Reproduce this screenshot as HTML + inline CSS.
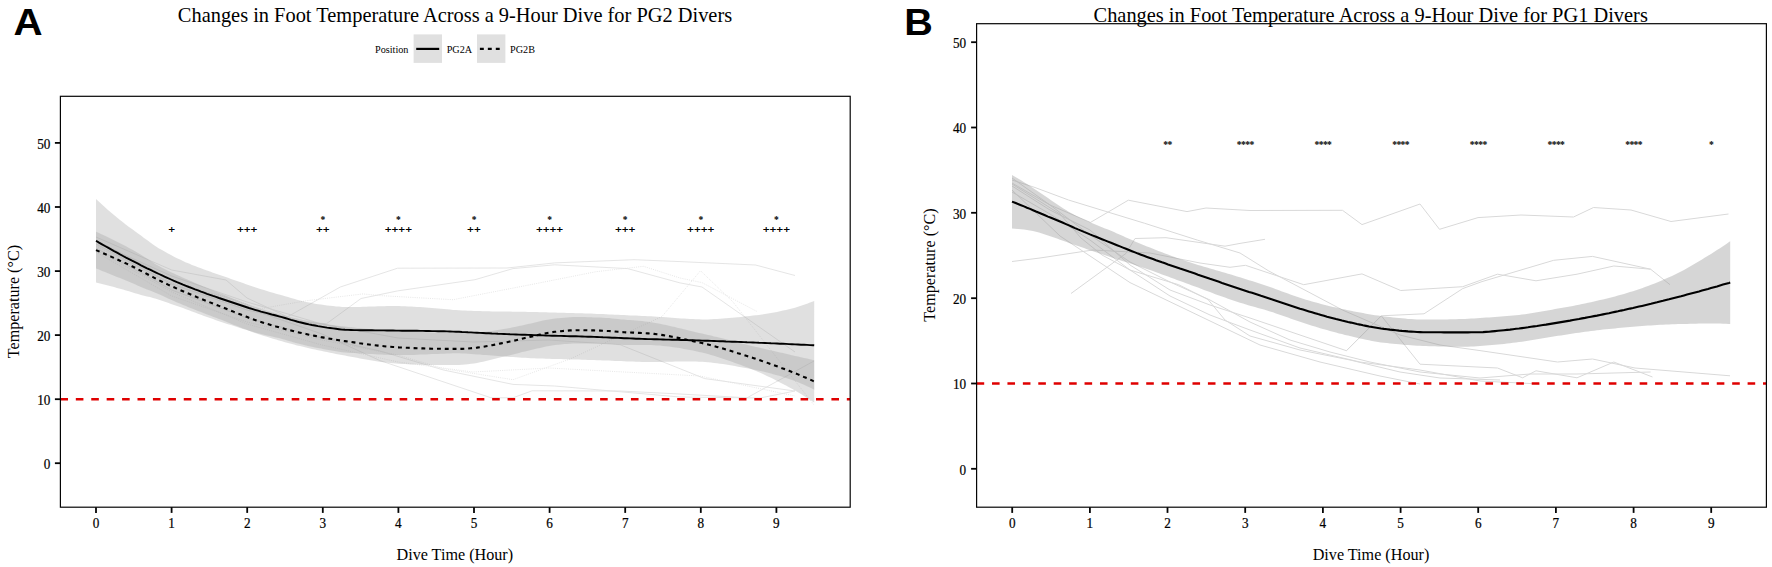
<!DOCTYPE html>
<html lang="en">
<head>
<meta charset="utf-8">
<title>Changes in Foot Temperature Across a 9-Hour Dive</title>
<style>
html,body{margin:0;padding:0;background:#fff;}
body{width:1772px;height:567px;overflow:hidden;}
svg{display:block;}
text{font-family:"Liberation Serif",serif;fill:#000;}
.panel{font-family:"Liberation Sans",sans-serif;font-weight:bold;font-size:37px;}
.title{font-size:20.4px;}
.axt{font-size:16.15px;}
.tick text{font-size:14.2px;stroke:#000;stroke-width:0.22px;}
.leg{font-size:10.2px;}
.annA text{font-size:11.3px;letter-spacing:0.45px;stroke:#000;stroke-width:0.4px;} .annA .st{font-size:9.5px;stroke:none;font-weight:bold;letter-spacing:0;}
.annB text{font-size:9.6px;letter-spacing:-0.6px;font-weight:bold;}
</style>
</head>
<body>
<svg width="1772" height="567" viewBox="0 0 1772 567">
<rect x="0" y="0" width="1772" height="567" fill="#ffffff"/>

<!-- ================= Panel A ================= -->
<text class="panel" transform="translate(13.6,35.2) scale(1.09,1)">A</text>
<text class="title" x="455.0" y="21.8" text-anchor="middle">Changes in Foot Temperature Across a 9-Hour Dive for PG2 Divers</text>

<g class="leg">
<text x="375" y="52.9">Position</text>
<rect x="413.6" y="34.4" width="28.4" height="28.5" fill="#e0e0e0"/>
<line x1="416.2" y1="48.9" x2="439.2" y2="48.9" stroke="#000" stroke-width="2.2"/>
<text x="446.7" y="52.9">PG2A</text>
<rect x="477" y="34.4" width="28.4" height="28.5" fill="#e0e0e0"/>
<line x1="479.9" y1="48.9" x2="502.8" y2="48.9" stroke="#000" stroke-width="2.2" stroke-dasharray="3.9 4.05"/>
<text x="510.1" y="52.9">PG2B</text>
</g>

<clipPath id="clipA"><rect x="60.4" y="96.3" width="789.8" height="410.9"/></clipPath>
<g clip-path="url(#clipA)">
<g fill="none" stroke="#e2e2e2" stroke-width="0.9" stroke-linejoin="round"><polyline points="96.0,237.0 171.7,270.0 226.0,280.0 247.0,298.0 287.5,316.8 340.3,287.0 397.6,268.2 507.0,268.0 554.6,262.9 634.0,259.7 680.0,261.6 755.5,265.0 795.0,275.5"/><polyline points="96.0,244.0 171.7,284.0 247.0,310.0 300.0,322.0 326.5,323.7 361.0,298.5 397.6,290.9 475.0,279.7 513.0,268.6 554.6,264.8 627.6,268.6 680.0,282.9 702.0,287.0 795.0,352.0"/><polyline points="96.0,240.0 171.7,280.0 247.0,308.0 322.0,334.0 380.0,360.6 491.0,397.8 513.0,397.8 532.0,390.8 620.0,391.0 680.0,394.0 733.0,397.0 747.0,397.8 814.0,361.0"/><polyline points="96.0,248.0 171.7,290.0 247.0,318.0 322.0,338.0 380.0,351.0 443.5,370.0 513.0,384.4 554.6,386.0 680.0,397.0 760.0,398.0 795.0,391.0"/><polyline points="96.0,242.0 171.7,276.0 247.0,302.0 322.0,324.0 398.0,338.0 473.0,342.0 549.0,340.0 620.0,344.7 704.7,378.6 795.0,391.0"/></g>
<g fill="none" stroke="#e4e4e4" stroke-width="0.9" stroke-dasharray="1 1.2" stroke-linejoin="round"><polyline points="96.0,246.0 171.7,283.0 226.0,297.0 260.0,308.8 305.9,300.8 363.0,293.9 380.0,295.6 453.0,299.7 532.0,284.4 596.0,271.7 643.5,266.3 680.0,278.0 702.0,282.6 757.0,311.5"/><polyline points="96.0,252.0 171.7,296.0 247.0,322.0 322.0,340.0 398.0,355.0 443.0,368.6 513.0,379.7 570.0,359.0 662.0,316.5 700.5,270.7 733.0,302.0 814.0,405.0"/><polyline points="96.0,250.0 171.7,292.0 247.0,324.0 322.0,345.0 398.0,362.0 473.0,372.0 549.0,368.0 624.0,372.0 700.0,376.0 795.0,396.0"/></g>
<polygon points="96.0,199.0 99.0,201.8 102.0,204.5 105.0,207.2 108.0,209.9 111.0,212.5 114.0,215.0 117.0,217.5 120.0,220.0 123.0,222.3 126.0,224.7 129.0,226.9 132.0,229.1 135.0,231.3 138.0,233.4 141.0,235.6 144.0,237.9 147.0,240.1 150.0,242.3 153.0,244.5 156.0,246.5 159.0,248.4 162.0,250.1 165.0,251.8 168.0,253.5 171.0,255.1 174.0,256.7 177.0,258.2 180.0,259.6 183.0,261.0 186.0,262.4 189.0,263.6 192.0,264.9 195.0,266.0 198.0,267.2 201.0,268.3 204.0,269.4 207.0,270.5 210.0,271.6 213.0,272.7 216.0,273.7 219.0,274.7 222.0,275.8 225.0,276.8 228.0,277.8 231.0,278.9 234.0,279.9 237.0,281.0 240.0,282.1 243.0,283.1 246.0,284.2 249.0,285.2 252.0,286.2 255.0,287.2 258.0,288.2 261.0,289.2 264.0,290.1 267.0,291.1 270.0,292.0 273.0,292.8 276.0,293.7 279.0,294.5 282.0,295.3 285.0,296.2 288.0,297.1 291.0,298.0 294.0,298.8 297.0,299.7 300.0,300.5 303.0,301.2 306.0,301.9 309.0,302.5 312.0,303.1 315.0,303.7 318.0,304.2 321.0,304.6 324.0,305.0 327.0,305.4 330.0,305.7 333.0,306.0 336.0,306.4 339.0,306.6 342.0,306.9 345.0,307.0 348.0,307.0 351.0,307.0 354.0,307.0 357.0,307.0 360.0,306.9 363.0,306.8 366.0,306.7 369.0,306.6 372.0,306.5 375.0,306.4 378.0,306.3 381.0,306.3 384.0,306.2 387.0,306.1 390.0,306.1 393.0,306.1 396.0,306.1 399.0,306.1 402.0,306.2 405.0,306.3 408.0,306.4 411.0,306.6 414.0,306.7 417.0,306.9 420.0,307.1 423.0,307.3 426.0,307.6 429.0,307.8 432.0,308.0 435.0,308.2 438.0,308.5 441.0,308.7 444.0,308.9 447.0,309.2 450.0,309.6 453.0,309.9 456.0,310.1 459.0,310.3 462.0,310.5 465.0,310.6 468.0,310.7 471.0,310.8 474.0,310.9 477.0,311.0 480.0,311.1 483.0,311.2 486.0,311.3 489.0,311.3 492.0,311.4 495.0,311.5 498.0,311.5 501.0,311.5 504.0,311.6 507.0,311.6 510.0,311.6 513.0,311.7 516.0,311.7 519.0,311.7 522.0,311.8 525.0,311.8 528.0,311.9 531.0,311.9 534.0,312.0 537.0,312.1 540.0,312.2 543.0,312.2 546.0,312.3 549.0,312.4 552.0,312.5 555.0,312.6 558.0,312.7 561.0,312.8 564.0,312.8 567.0,312.9 570.0,313.0 573.0,313.1 576.0,313.2 579.0,313.3 582.0,313.3 585.0,313.4 588.0,313.5 591.0,313.6 594.0,313.8 597.0,313.9 600.0,314.0 603.0,314.1 606.0,314.3 609.0,314.4 612.0,314.6 615.0,314.7 618.0,314.8 621.0,315.0 624.0,315.1 627.0,315.3 630.0,315.4 633.0,315.5 636.0,315.6 639.0,315.8 642.0,315.9 645.0,316.0 648.0,316.2 651.0,316.3 654.0,316.5 657.0,316.7 660.0,316.9 663.0,317.1 666.0,317.3 669.0,317.5 672.0,317.8 675.0,318.0 678.0,318.2 681.0,318.4 684.0,318.6 687.0,318.7 690.0,318.9 693.0,319.1 696.0,319.2 699.0,319.3 702.0,319.4 705.0,319.4 708.0,319.4 711.0,319.3 714.0,319.1 717.0,319.0 720.0,318.8 723.0,318.6 726.0,318.3 729.0,318.0 732.0,317.8 735.0,317.5 738.0,317.2 741.0,316.9 744.0,316.6 747.0,316.3 750.0,316.0 753.0,315.6 756.0,315.3 759.0,314.9 762.0,314.4 765.0,314.0 768.0,313.5 771.0,313.0 774.0,312.4 777.0,311.9 780.0,311.3 783.0,310.6 786.0,310.0 789.0,309.3 792.0,308.6 795.0,307.7 798.0,306.8 801.0,305.8 804.0,304.8 807.0,303.7 810.0,302.5 813.0,301.4 814.2,300.9 814.2,389.7 813.0,389.1 810.0,387.6 807.0,386.2 804.0,384.8 801.0,383.5 798.0,382.2 795.0,381.0 792.0,379.9 789.0,378.9 786.0,377.9 783.0,377.0 780.0,376.1 777.0,375.2 774.0,374.4 771.0,373.6 768.0,372.8 765.0,372.1 762.0,371.3 759.0,370.7 756.0,370.0 753.0,369.4 750.0,368.8 747.0,368.3 744.0,367.7 741.0,367.2 738.0,366.7 735.0,366.1 732.0,365.6 729.0,365.1 726.0,364.6 723.0,364.1 720.0,363.7 717.0,363.3 714.0,362.9 711.0,362.6 708.0,362.3 705.0,362.0 702.0,361.8 699.0,361.7 696.0,361.6 693.0,361.6 690.0,361.5 687.0,361.5 684.0,361.5 681.0,361.5 678.0,361.6 675.0,361.6 672.0,361.7 669.0,361.7 666.0,361.8 663.0,361.8 660.0,361.9 657.0,361.9 654.0,361.9 651.0,362.0 648.0,361.9 645.0,361.9 642.0,361.9 639.0,361.8 636.0,361.7 633.0,361.6 630.0,361.5 627.0,361.4 624.0,361.2 621.0,361.1 618.0,361.0 615.0,360.9 612.0,360.8 609.0,360.6 606.0,360.5 603.0,360.4 600.0,360.3 597.0,360.2 594.0,360.1 591.0,359.9 588.0,359.9 585.0,359.8 582.0,359.7 579.0,359.6 576.0,359.5 573.0,359.4 570.0,359.4 567.0,359.3 564.0,359.2 561.0,359.1 558.0,359.1 555.0,359.0 552.0,358.9 549.0,358.8 546.0,358.7 543.0,358.6 540.0,358.5 537.0,358.4 534.0,358.3 531.0,358.2 528.0,358.0 525.0,357.8 522.0,357.7 519.0,357.5 516.0,357.3 513.0,357.1 510.0,356.9 507.0,356.7 504.0,356.5 501.0,356.3 498.0,356.0 495.0,355.8 492.0,355.6 489.0,355.3 486.0,355.1 483.0,354.9 480.0,354.6 477.0,354.4 474.0,354.2 471.0,354.0 468.0,353.8 465.0,353.6 462.0,353.5 459.0,353.3 456.0,353.3 453.0,353.3 450.0,353.4 447.0,353.5 444.0,353.7 441.0,353.8 438.0,353.9 435.0,354.0 432.0,354.1 429.0,354.2 426.0,354.4 423.0,354.5 420.0,354.6 417.0,354.8 414.0,354.9 411.0,355.0 408.0,355.0 405.0,355.1 402.0,355.1 399.0,355.1 396.0,355.1 393.0,355.0 390.0,354.9 387.0,354.8 384.0,354.7 381.0,354.6 378.0,354.4 375.0,354.3 372.0,354.1 369.0,354.0 366.0,353.8 363.0,353.6 360.0,353.5 357.0,353.3 354.0,353.1 351.0,353.0 348.0,352.8 345.0,352.6 342.0,352.2 339.0,351.8 336.0,351.3 333.0,350.8 330.0,350.3 327.0,349.8 324.0,349.2 321.0,348.6 318.0,348.0 315.0,347.4 312.0,346.8 309.0,346.2 306.0,345.5 303.0,344.8 300.0,344.1 297.0,343.3 294.0,342.4 291.0,341.6 288.0,340.7 285.0,339.8 282.0,338.9 279.0,338.1 276.0,337.4 273.0,336.7 270.0,336.0 267.0,335.4 264.0,334.7 261.0,334.0 258.0,333.2 255.0,332.4 252.0,331.6 249.0,330.7 246.0,329.8 243.0,328.9 240.0,328.0 237.0,327.1 234.0,326.1 231.0,325.1 228.0,324.2 225.0,323.2 222.0,322.2 219.0,321.2 216.0,320.2 213.0,319.1 210.0,318.1 207.0,317.0 204.0,315.9 201.0,314.8 198.0,313.7 195.0,312.6 192.0,311.4 189.0,310.3 186.0,309.2 183.0,308.1 180.0,307.0 177.0,306.0 174.0,304.9 171.0,303.9 168.0,302.8 165.0,301.8 162.0,300.7 159.0,299.7 156.0,298.7 153.0,297.9 150.0,297.1 147.0,296.4 144.0,295.7 141.0,294.9 138.0,294.0 135.0,293.2 132.0,292.2 129.0,291.3 126.0,290.4 123.0,289.6 120.0,288.8 117.0,287.9 114.0,287.1 111.0,286.3 108.0,285.6 105.0,284.8 102.0,284.0 99.0,283.3 96.0,282.6" fill="#999999" fill-opacity="0.3"/>
<polygon points="96.0,231.8 99.0,233.1 102.0,234.5 105.0,235.8 108.0,237.3 111.0,238.7 114.0,240.2 117.0,241.7 120.0,243.2 123.0,244.8 126.0,246.3 129.0,248.0 132.0,249.6 135.0,251.3 138.0,253.1 141.0,254.8 144.0,256.7 147.0,258.6 150.0,260.6 153.0,262.5 156.0,264.4 159.0,266.1 162.0,267.7 165.0,269.3 168.0,270.8 171.0,272.2 174.0,273.6 177.0,275.0 180.0,276.3 183.0,277.7 186.0,279.0 189.0,280.3 192.0,281.6 195.0,282.9 198.0,284.2 201.0,285.4 204.0,286.7 207.0,288.0 210.0,289.2 213.0,290.5 216.0,291.7 219.0,292.9 222.0,294.1 225.0,295.3 228.0,296.5 231.0,297.7 234.0,298.9 237.0,300.1 240.0,301.3 243.0,302.5 246.0,303.6 249.0,304.8 252.0,305.9 255.0,306.9 258.0,307.9 261.0,308.9 264.0,309.8 267.0,310.7 270.0,311.6 273.0,312.5 276.0,313.3 279.0,314.2 282.0,315.0 285.0,315.7 288.0,316.5 291.0,317.2 294.0,317.9 297.0,318.6 300.0,319.3 303.0,319.9 306.0,320.5 309.0,321.1 312.0,321.6 315.0,322.2 318.0,322.7 321.0,323.3 324.0,323.8 327.0,324.3 330.0,324.7 333.0,325.1 336.0,325.6 339.0,325.9 342.0,326.3 345.0,326.6 348.0,327.0 351.0,327.3 354.0,327.6 357.0,327.9 360.0,328.1 363.0,328.4 366.0,328.7 369.0,329.0 372.0,329.2 375.0,329.5 378.0,329.7 381.0,330.0 384.0,330.2 387.0,330.4 390.0,330.6 393.0,330.7 396.0,330.9 399.0,331.0 402.0,331.1 405.0,331.3 408.0,331.4 411.0,331.6 414.0,331.7 417.0,331.8 420.0,332.0 423.0,332.1 426.0,332.2 429.0,332.3 432.0,332.4 435.0,332.5 438.0,332.5 441.0,332.6 444.0,332.6 447.0,332.7 450.0,332.7 453.0,332.8 456.0,332.8 459.0,332.9 462.0,332.9 465.0,332.8 468.0,332.7 471.0,332.6 474.0,332.5 477.0,332.3 480.0,332.1 483.0,331.9 486.0,331.6 489.0,331.3 492.0,330.9 495.0,330.5 498.0,330.0 501.0,329.5 504.0,329.0 507.0,328.5 510.0,327.9 513.0,327.3 516.0,326.7 519.0,326.0 522.0,325.4 525.0,324.7 528.0,324.0 531.0,323.4 534.0,322.7 537.0,322.0 540.0,321.3 543.0,320.6 546.0,320.0 549.0,319.4 552.0,318.9 555.0,318.6 558.0,318.3 561.0,318.0 564.0,317.7 567.0,317.4 570.0,317.2 573.0,317.1 576.0,317.0 579.0,317.0 582.0,317.0 585.0,317.1 588.0,317.2 591.0,317.3 594.0,317.4 597.0,317.5 600.0,317.6 603.0,317.8 606.0,317.9 609.0,318.1 612.0,318.4 615.0,318.7 618.0,319.1 621.0,319.4 624.0,319.6 627.0,319.9 630.0,320.1 633.0,320.3 636.0,320.6 639.0,320.8 642.0,321.1 645.0,321.4 648.0,321.8 651.0,322.2 654.0,322.7 657.0,323.2 660.0,323.8 663.0,324.4 666.0,325.0 669.0,325.7 672.0,326.4 675.0,327.1 678.0,327.9 681.0,328.6 684.0,329.3 687.0,330.1 690.0,330.8 693.0,331.5 696.0,332.2 699.0,332.9 702.0,333.6 705.0,334.2 708.0,334.9 711.0,335.6 714.0,336.4 717.0,337.1 720.0,337.8 723.0,338.6 726.0,339.3 729.0,340.1 732.0,340.8 735.0,341.6 738.0,342.4 741.0,343.2 744.0,343.9 747.0,344.7 750.0,345.5 753.0,346.2 756.0,346.9 759.0,347.6 762.0,348.3 765.0,349.0 768.0,349.7 771.0,350.4 774.0,351.1 777.0,351.8 780.0,352.4 783.0,353.1 786.0,353.8 789.0,354.5 792.0,355.2 795.0,355.9 798.0,356.6 801.0,357.3 804.0,357.9 807.0,358.6 810.0,359.3 813.0,359.9 814.2,360.2 814.2,402.6 813.0,401.8 810.0,399.8 807.0,397.9 804.0,396.0 801.0,394.1 798.0,392.3 795.0,390.5 792.0,388.8 789.0,387.2 786.0,385.6 783.0,384.0 780.0,382.4 777.0,380.9 774.0,379.3 771.0,377.8 768.0,376.4 765.0,375.0 762.0,373.6 759.0,372.2 756.0,370.9 753.0,369.7 750.0,368.4 747.0,367.3 744.0,366.2 741.0,365.1 738.0,364.0 735.0,362.9 732.0,361.8 729.0,360.7 726.0,359.7 723.0,358.7 720.0,357.7 717.0,356.7 714.0,355.8 711.0,354.9 708.0,354.1 705.0,353.3 702.0,352.6 699.0,351.9 696.0,351.3 693.0,350.6 690.0,350.0 687.0,349.4 684.0,348.9 681.0,348.3 678.0,347.8 675.0,347.4 672.0,346.9 669.0,346.5 666.0,346.2 663.0,345.9 660.0,345.6 657.0,345.4 654.0,345.2 651.0,345.0 648.0,345.0 645.0,344.9 642.0,344.9 639.0,344.9 636.0,344.9 633.0,344.9 630.0,344.9 627.0,344.9 624.0,344.9 621.0,344.7 618.0,344.6 615.0,344.3 612.0,344.0 609.0,343.9 606.0,343.8 603.0,343.7 600.0,343.6 597.0,343.6 594.0,343.5 591.0,343.5 588.0,343.4 585.0,343.4 582.0,343.4 579.0,343.4 576.0,343.4 573.0,343.5 570.0,343.7 567.0,343.9 564.0,344.1 561.0,344.4 558.0,344.7 555.0,345.1 552.0,345.4 549.0,345.9 546.0,346.5 543.0,347.2 540.0,347.9 537.0,348.6 534.0,349.3 531.0,350.0 528.0,350.7 525.0,351.4 522.0,352.1 519.0,352.9 516.0,353.7 513.0,354.4 510.0,355.2 507.0,355.9 504.0,356.6 501.0,357.3 498.0,358.0 495.0,358.8 492.0,359.5 489.0,360.3 486.0,361.0 483.0,361.7 480.0,362.3 477.0,362.9 474.0,363.4 471.0,363.8 468.0,364.3 465.0,364.6 462.0,364.8 459.0,364.9 456.0,364.9 453.0,365.0 450.0,365.0 447.0,365.0 444.0,365.0 441.0,365.0 438.0,365.0 435.0,365.0 432.0,365.0 429.0,364.9 426.0,364.9 423.0,364.8 420.0,364.7 417.0,364.6 414.0,364.5 411.0,364.4 408.0,364.2 405.0,364.1 402.0,363.9 399.0,363.7 396.0,363.5 393.0,363.3 390.0,363.0 387.0,362.6 384.0,362.3 381.0,361.9 378.0,361.4 375.0,361.0 372.0,360.5 369.0,360.0 366.0,359.4 363.0,358.9 360.0,358.4 357.0,357.8 354.0,357.3 351.0,356.7 348.0,356.2 345.0,355.6 342.0,355.0 339.0,354.5 336.0,353.9 333.0,353.3 330.0,352.7 327.0,352.1 324.0,351.4 321.0,350.8 318.0,350.2 315.0,349.6 312.0,348.9 309.0,348.2 306.0,347.5 303.0,346.8 300.0,346.1 297.0,345.4 294.0,344.6 291.0,343.8 288.0,343.0 285.0,342.2 282.0,341.3 279.0,340.4 276.0,339.6 273.0,338.7 270.0,337.8 267.0,336.8 264.0,335.9 261.0,334.9 258.0,334.0 255.0,332.9 252.0,331.9 249.0,330.8 246.0,329.6 243.0,328.5 240.0,327.3 237.0,326.1 234.0,324.9 231.0,323.7 228.0,322.5 225.0,321.3 222.0,320.1 219.0,318.9 216.0,317.8 213.0,316.7 210.0,315.5 207.0,314.4 204.0,313.2 201.0,312.1 198.0,310.9 195.0,309.8 192.0,308.6 189.0,307.4 186.0,306.1 183.0,304.9 180.0,303.6 177.0,302.4 174.0,301.1 171.0,299.7 168.0,298.4 165.0,297.0 162.0,295.6 159.0,294.2 156.0,292.9 153.0,291.7 150.0,290.5 147.0,289.4 144.0,288.2 141.0,287.0 138.0,285.7 135.0,284.3 132.0,283.0 129.0,281.8 126.0,280.5 123.0,279.3 120.0,278.1 117.0,276.9 114.0,275.7 111.0,274.5 108.0,273.3 105.0,272.1 102.0,270.9 99.0,269.6 96.0,268.4" fill="#999999" fill-opacity="0.3"/>
<polyline points="96.0,240.8 99.0,242.6 102.0,244.3 105.0,246.0 108.0,247.7 111.0,249.4 114.0,251.1 117.0,252.7 120.0,254.4 123.0,256.0 126.0,257.6 129.0,259.1 132.0,260.7 135.0,262.2 138.0,263.7 141.0,265.3 144.0,266.8 147.0,268.3 150.0,269.7 153.0,271.2 156.0,272.6 159.0,274.0 162.0,275.4 165.0,276.8 168.0,278.2 171.0,279.5 174.0,280.8 177.0,282.1 180.0,283.3 183.0,284.6 186.0,285.8 189.0,287.0 192.0,288.1 195.0,289.3 198.0,290.4 201.0,291.6 204.0,292.7 207.0,293.8 210.0,294.8 213.0,295.9 216.0,296.9 219.0,298.0 222.0,299.0 225.0,300.0 228.0,301.0 231.0,302.0 234.0,303.0 237.0,304.0 240.0,305.0 243.0,306.0 246.0,307.0 249.0,308.0 252.0,308.9 255.0,309.8 258.0,310.7 261.0,311.6 264.0,312.4 267.0,313.2 270.0,314.0 273.0,314.8 276.0,315.5 279.0,316.3 282.0,317.1 285.0,318.0 288.0,318.9 291.0,319.8 294.0,320.6 297.0,321.5 300.0,322.3 303.0,323.0 306.0,323.7 309.0,324.4 312.0,325.0 315.0,325.5 318.0,326.1 321.0,326.6 324.0,327.1 327.0,327.6 330.0,328.0 333.0,328.4 336.0,328.8 339.0,329.2 342.0,329.6 345.0,329.8 348.0,329.9 351.0,330.0 354.0,330.1 357.0,330.1 360.0,330.2 363.0,330.2 366.0,330.3 369.0,330.3 372.0,330.3 375.0,330.4 378.0,330.4 381.0,330.4 384.0,330.4 387.0,330.5 390.0,330.5 393.0,330.5 396.0,330.6 399.0,330.6 402.0,330.7 405.0,330.7 408.0,330.7 411.0,330.8 414.0,330.8 417.0,330.8 420.0,330.9 423.0,330.9 426.0,331.0 429.0,331.0 432.0,331.1 435.0,331.1 438.0,331.2 441.0,331.2 444.0,331.3 447.0,331.4 450.0,331.5 453.0,331.6 456.0,331.7 459.0,331.8 462.0,332.0 465.0,332.1 468.0,332.3 471.0,332.4 474.0,332.6 477.0,332.7 480.0,332.9 483.0,333.0 486.0,333.2 489.0,333.3 492.0,333.5 495.0,333.6 498.0,333.8 501.0,333.9 504.0,334.0 507.0,334.1 510.0,334.3 513.0,334.4 516.0,334.5 519.0,334.6 522.0,334.7 525.0,334.8 528.0,334.9 531.0,335.0 534.0,335.1 537.0,335.2 540.0,335.3 543.0,335.4 546.0,335.5 549.0,335.6 552.0,335.7 555.0,335.8 558.0,335.9 561.0,335.9 564.0,336.0 567.0,336.1 570.0,336.2 573.0,336.3 576.0,336.3 579.0,336.4 582.0,336.5 585.0,336.6 588.0,336.7 591.0,336.8 594.0,336.9 597.0,337.0 600.0,337.1 603.0,337.3 606.0,337.4 609.0,337.5 612.0,337.7 615.0,337.8 618.0,337.9 621.0,338.0 624.0,338.2 627.0,338.3 630.0,338.4 633.0,338.5 636.0,338.7 639.0,338.8 642.0,338.9 645.0,339.0 648.0,339.1 651.0,339.1 654.0,339.2 657.0,339.3 660.0,339.4 663.0,339.5 666.0,339.6 669.0,339.6 672.0,339.7 675.0,339.8 678.0,339.9 681.0,340.0 684.0,340.0 687.0,340.1 690.0,340.2 693.0,340.3 696.0,340.4 699.0,340.5 702.0,340.6 705.0,340.7 708.0,340.8 711.0,340.9 714.0,341.0 717.0,341.1 720.0,341.2 723.0,341.3 726.0,341.5 729.0,341.6 732.0,341.7 735.0,341.8 738.0,341.9 741.0,342.0 744.0,342.1 747.0,342.3 750.0,342.4 753.0,342.5 756.0,342.6 759.0,342.8 762.0,342.9 765.0,343.0 768.0,343.1 771.0,343.3 774.0,343.4 777.0,343.5 780.0,343.7 783.0,343.8 786.0,343.9 789.0,344.1 792.0,344.2 795.0,344.4 798.0,344.5 801.0,344.7 804.0,344.8 807.0,344.9 810.0,345.1 813.0,345.2 814.2,345.3" fill="none" stroke="#000" stroke-width="1.9"/>
<polyline points="96.0,250.1 99.0,251.4 102.0,252.7 105.0,254.0 108.0,255.3 111.0,256.6 114.0,257.9 117.0,259.3 120.0,260.7 123.0,262.0 126.0,263.4 129.0,264.9 132.0,266.3 135.0,267.8 138.0,269.4 141.0,270.9 144.0,272.4 147.0,274.0 150.0,275.6 153.0,277.1 156.0,278.7 159.0,280.2 162.0,281.7 165.0,283.2 168.0,284.6 171.0,286.0 174.0,287.3 177.0,288.7 180.0,290.0 183.0,291.3 186.0,292.6 189.0,293.8 192.0,295.1 195.0,296.3 198.0,297.6 201.0,298.8 204.0,300.0 207.0,301.2 210.0,302.4 213.0,303.6 216.0,304.7 219.0,305.9 222.0,307.1 225.0,308.3 228.0,309.5 231.0,310.7 234.0,311.9 237.0,313.1 240.0,314.3 243.0,315.5 246.0,316.6 249.0,317.8 252.0,318.9 255.0,319.9 258.0,321.0 261.0,321.9 264.0,322.9 267.0,323.8 270.0,324.7 273.0,325.6 276.0,326.5 279.0,327.3 282.0,328.1 285.0,329.0 288.0,329.7 291.0,330.5 294.0,331.3 297.0,332.0 300.0,332.7 303.0,333.4 306.0,334.0 309.0,334.7 312.0,335.3 315.0,335.9 318.0,336.5 321.0,337.1 324.0,337.6 327.0,338.2 330.0,338.7 333.0,339.2 336.0,339.7 339.0,340.2 342.0,340.7 345.0,341.1 348.0,341.6 351.0,342.0 354.0,342.4 357.0,342.8 360.0,343.3 363.0,343.7 366.0,344.1 369.0,344.5 372.0,344.9 375.0,345.2 378.0,345.6 381.0,345.9 384.0,346.2 387.0,346.5 390.0,346.8 393.0,347.0 396.0,347.2 399.0,347.4 402.0,347.5 405.0,347.7 408.0,347.8 411.0,348.0 414.0,348.1 417.0,348.2 420.0,348.3 423.0,348.4 426.0,348.5 429.0,348.6 432.0,348.7 435.0,348.7 438.0,348.8 441.0,348.8 444.0,348.8 447.0,348.9 450.0,348.9 453.0,348.9 456.0,348.9 459.0,348.9 462.0,348.9 465.0,348.7 468.0,348.5 471.0,348.2 474.0,347.9 477.0,347.6 480.0,347.2 483.0,346.8 486.0,346.3 489.0,345.8 492.0,345.2 495.0,344.6 498.0,344.0 501.0,343.4 504.0,342.8 507.0,342.2 510.0,341.5 513.0,340.9 516.0,340.2 519.0,339.5 522.0,338.7 525.0,338.0 528.0,337.4 531.0,336.7 534.0,336.0 537.0,335.3 540.0,334.6 543.0,333.9 546.0,333.3 549.0,332.7 552.0,332.2 555.0,331.8 558.0,331.5 561.0,331.2 564.0,330.9 567.0,330.7 570.0,330.4 573.0,330.3 576.0,330.2 579.0,330.2 582.0,330.2 585.0,330.3 588.0,330.3 591.0,330.4 594.0,330.4 597.0,330.5 600.0,330.6 603.0,330.7 606.0,330.9 609.0,331.0 612.0,331.2 615.0,331.5 618.0,331.8 621.0,332.1 624.0,332.2 627.0,332.4 630.0,332.5 633.0,332.6 636.0,332.8 639.0,332.9 642.0,333.0 645.0,333.2 648.0,333.4 651.0,333.6 654.0,333.9 657.0,334.3 660.0,334.7 663.0,335.1 666.0,335.6 669.0,336.1 672.0,336.7 675.0,337.3 678.0,337.9 681.0,338.5 684.0,339.1 687.0,339.8 690.0,340.4 693.0,341.1 696.0,341.7 699.0,342.4 702.0,343.1 705.0,343.8 708.0,344.5 711.0,345.3 714.0,346.1 717.0,346.9 720.0,347.8 723.0,348.6 726.0,349.5 729.0,350.4 732.0,351.3 735.0,352.2 738.0,353.2 741.0,354.1 744.0,355.1 747.0,356.0 750.0,357.0 753.0,357.9 756.0,358.9 759.0,359.9 762.0,361.0 765.0,362.0 768.0,363.1 771.0,364.1 774.0,365.2 777.0,366.3 780.0,367.4 783.0,368.6 786.0,369.7 789.0,370.8 792.0,372.0 795.0,373.2 798.0,374.4 801.0,375.7 804.0,377.0 807.0,378.2 810.0,379.5 813.0,380.9 814.2,381.4" fill="none" stroke="#000" stroke-width="2.1" stroke-dasharray="3.9 3.9"/>
<line x1="60.4" y1="399.2" x2="850.2" y2="399.2" stroke="#df0000" stroke-width="2.4" stroke-dasharray="7.6 7.82"/>
</g>
<g class="annA"><text x="171.8" y="232.7" text-anchor="middle">+</text><text x="247.4" y="232.7" text-anchor="middle">+++</text><text x="323.0" y="232.7" text-anchor="middle">++</text><text x="398.6" y="232.7" text-anchor="middle">++++</text><text x="474.2" y="232.7" text-anchor="middle">++</text><text x="549.8" y="232.7" text-anchor="middle">++++</text><text x="625.4" y="232.7" text-anchor="middle">+++</text><text x="701.0" y="232.7" text-anchor="middle">++++</text><text x="776.6" y="232.7" text-anchor="middle">++++</text><text x="322.8" y="223.4" class="st" text-anchor="middle">*</text><text x="398.4" y="223.4" class="st" text-anchor="middle">*</text><text x="474.0" y="223.4" class="st" text-anchor="middle">*</text><text x="549.6" y="223.4" class="st" text-anchor="middle">*</text><text x="625.2" y="223.4" class="st" text-anchor="middle">*</text><text x="700.8" y="223.4" class="st" text-anchor="middle">*</text><text x="776.4" y="223.4" class="st" text-anchor="middle">*</text></g>
<rect x="60.4" y="96.3" width="789.8" height="410.9" fill="none" stroke="#050505" stroke-width="1.2"/>
<g stroke="#050505" stroke-width="1.8"><line x1="54.9" y1="463.2" x2="60.4" y2="463.2"/><line x1="54.9" y1="399.2" x2="60.4" y2="399.2"/><line x1="54.9" y1="335.1" x2="60.4" y2="335.1"/><line x1="54.9" y1="271.1" x2="60.4" y2="271.1"/><line x1="54.9" y1="207.0" x2="60.4" y2="207.0"/><line x1="54.9" y1="142.9" x2="60.4" y2="142.9"/><line x1="96.0" y1="507.2" x2="96.0" y2="512.9"/><line x1="171.6" y1="507.2" x2="171.6" y2="512.9"/><line x1="247.2" y1="507.2" x2="247.2" y2="512.9"/><line x1="322.8" y1="507.2" x2="322.8" y2="512.9"/><line x1="398.4" y1="507.2" x2="398.4" y2="512.9"/><line x1="474.0" y1="507.2" x2="474.0" y2="512.9"/><line x1="549.6" y1="507.2" x2="549.6" y2="512.9"/><line x1="625.2" y1="507.2" x2="625.2" y2="512.9"/><line x1="700.8" y1="507.2" x2="700.8" y2="512.9"/><line x1="776.4" y1="507.2" x2="776.4" y2="512.9"/></g>
<g class="tick"><text transform="translate(50.4,469.1) scale(0.93,1)" text-anchor="end">0</text><text transform="translate(50.4,405.1) scale(0.93,1)" text-anchor="end">10</text><text transform="translate(50.4,341.0) scale(0.93,1)" text-anchor="end">20</text><text transform="translate(50.4,277.0) scale(0.93,1)" text-anchor="end">30</text><text transform="translate(50.4,212.9) scale(0.93,1)" text-anchor="end">40</text><text transform="translate(50.4,148.8) scale(0.93,1)" text-anchor="end">50</text><text transform="translate(96.0,527.8) scale(0.93,1)" text-anchor="middle">0</text><text transform="translate(171.6,527.8) scale(0.93,1)" text-anchor="middle">1</text><text transform="translate(247.2,527.8) scale(0.93,1)" text-anchor="middle">2</text><text transform="translate(322.8,527.8) scale(0.93,1)" text-anchor="middle">3</text><text transform="translate(398.4,527.8) scale(0.93,1)" text-anchor="middle">4</text><text transform="translate(474.0,527.8) scale(0.93,1)" text-anchor="middle">5</text><text transform="translate(549.6,527.8) scale(0.93,1)" text-anchor="middle">6</text><text transform="translate(625.2,527.8) scale(0.93,1)" text-anchor="middle">7</text><text transform="translate(700.8,527.8) scale(0.93,1)" text-anchor="middle">8</text><text transform="translate(776.4,527.8) scale(0.93,1)" text-anchor="middle">9</text></g>
<text class="axt" x="454.8" y="559.6" text-anchor="middle">Dive Time (Hour)</text>
<text class="axt" transform="translate(19.2,301.6) rotate(-90)" text-anchor="middle">Temperature (°C)</text>

<!-- ================= Panel B ================= -->
<text class="panel" transform="translate(904.2,35.3) scale(1.07,1)">B</text>
<text class="title" x="1370.7" y="21.8" text-anchor="middle">Changes in Foot Temperature Across a 9-Hour Dive for PG1 Divers</text>

<clipPath id="clipB"><rect x="976.6" y="23.7" width="789.8" height="483.5"/></clipPath>
<g clip-path="url(#clipB)">
<g fill="none" stroke="#d9d9d9" stroke-width="1" stroke-linejoin="round"><polyline points="1012.0,183.0 1050.0,205.0 1090.5,222.4 1128.3,200.2 1187.0,211.6 1206.0,208.0 1250.0,210.5 1342.5,210.3 1362.0,224.6 1420.0,204.0 1439.5,229.3 1478.0,217.6 1521.0,215.0 1573.5,217.0 1593.5,207.5 1631.0,210.0 1671.0,221.5 1728.5,214.0"/><polyline points="1071.0,293.5 1126.0,253.4 1135.0,238.5 1166.0,237.7 1225.0,246.2 1240.0,243.4 1265.0,239.3"/><polyline points="1012.0,180.0 1035.0,187.5 1068.5,200.0 1144.7,223.3 1197.7,240.2 1240.0,253.0 1268.8,271.0 1342.5,310.0 1400.0,335.0 1440.0,345.0 1480.0,350.6 1557.5,362.0 1592.5,359.0 1635.0,368.0 1730.0,375.8"/><polyline points="1012.0,186.0 1050.0,210.0 1090.0,230.0 1130.0,265.0 1170.0,290.0 1210.0,305.0 1250.0,318.0 1300.0,335.0 1346.4,350.7 1381.3,315.8 1420.0,364.2 1497.5,368.0 1522.6,377.8 1536.0,370.8 1577.0,377.8 1613.8,362.0 1652.5,377.0"/><polyline points="1012.0,178.0 1050.0,205.0 1090.0,235.0 1130.0,262.0 1170.0,282.0 1210.0,300.0 1250.0,322.0 1290.0,340.0 1330.0,352.0 1370.0,362.0 1420.0,372.0 1480.0,378.0 1530.0,374.0 1577.0,374.0 1650.6,372.0"/><polyline points="1012.0,192.0 1050.0,214.0 1090.0,240.0 1130.0,270.0 1170.0,296.0 1210.0,315.0 1250.0,330.0 1300.0,348.0 1360.0,362.0 1420.0,370.0 1480.0,381.0 1540.0,384.0"/><polyline points="1012.0,261.5 1040.0,258.0 1092.7,250.0 1150.0,253.0 1200.0,263.0 1230.0,267.3 1245.5,265.3 1303.7,284.7 1362.0,273.9 1400.7,290.5 1462.7,286.7 1497.5,274.2 1536.0,280.8 1577.0,274.2 1613.8,266.0 1650.6,269.2 1670.0,284.7"/><polyline points="1012.0,184.0 1060.0,214.0 1081.0,238.0 1102.0,255.0 1130.0,270.0 1178.6,284.7 1208.0,299.5 1225.0,320.0 1250.0,336.0 1300.0,350.0 1350.0,360.0 1400.0,372.0 1440.0,378.0 1500.0,380.0"/><polyline points="1346.4,350.7 1381.3,315.8 1424.0,313.8 1462.7,288.6 1482.0,281.6 1553.7,260.3 1592.5,256.4 1633.0,265.3 1650.6,269.2"/><polyline points="1012.0,190.0 1060.0,236.0 1130.0,282.6 1208.0,320.0 1260.0,345.0 1320.0,362.0 1380.0,376.0 1420.0,384.0"/></g>
<polygon points="1012.0,174.9 1015.0,176.7 1018.0,178.5 1021.0,180.3 1024.0,182.2 1027.0,184.1 1030.0,186.0 1033.0,188.0 1036.0,190.0 1039.0,192.0 1042.0,194.0 1045.0,196.1 1048.0,198.1 1051.0,200.2 1054.0,202.3 1057.0,204.3 1060.0,206.3 1063.0,208.2 1066.0,210.1 1069.0,211.9 1072.0,213.6 1075.0,215.2 1078.0,216.8 1081.0,218.3 1084.0,219.6 1087.0,220.9 1090.0,222.2 1093.0,223.5 1096.0,224.7 1099.0,226.0 1102.0,227.2 1105.0,228.4 1108.0,229.6 1111.0,230.8 1114.0,232.1 1117.0,233.4 1120.0,234.7 1123.0,236.1 1126.0,237.4 1129.0,238.8 1132.0,240.1 1135.0,241.4 1138.0,242.7 1141.0,244.0 1144.0,245.2 1147.0,246.4 1150.0,247.6 1153.0,248.8 1156.0,250.0 1159.0,251.2 1162.0,252.3 1165.0,253.5 1168.0,254.6 1171.0,255.7 1174.0,256.8 1177.0,257.9 1180.0,259.0 1183.0,260.0 1186.0,261.0 1189.0,262.0 1192.0,263.0 1195.0,264.0 1198.0,264.9 1201.0,265.8 1204.0,266.7 1207.0,267.6 1210.0,268.5 1213.0,269.3 1216.0,270.2 1219.0,271.1 1222.0,271.9 1225.0,272.8 1228.0,273.7 1231.0,274.6 1234.0,275.5 1237.0,276.4 1240.0,277.3 1243.0,278.2 1246.0,279.2 1249.0,280.2 1252.0,281.1 1255.0,282.1 1258.0,283.1 1261.0,284.1 1264.0,285.1 1267.0,286.1 1270.0,287.1 1273.0,288.1 1276.0,289.2 1279.0,290.3 1282.0,291.4 1285.0,292.5 1288.0,293.6 1291.0,294.7 1294.0,295.8 1297.0,296.8 1300.0,297.8 1303.0,298.8 1306.0,299.7 1309.0,300.6 1312.0,301.5 1315.0,302.3 1318.0,303.1 1321.0,303.9 1324.0,304.7 1327.0,305.5 1330.0,306.2 1333.0,306.9 1336.0,307.6 1339.0,308.3 1342.0,309.0 1345.0,309.6 1348.0,310.2 1351.0,310.8 1354.0,311.4 1357.0,312.0 1360.0,312.6 1363.0,313.1 1366.0,313.7 1369.0,314.2 1372.0,314.7 1375.0,315.2 1378.0,315.6 1381.0,316.0 1384.0,316.4 1387.0,316.7 1390.0,317.0 1393.0,317.4 1396.0,317.7 1399.0,318.0 1402.0,318.3 1405.0,318.6 1408.0,318.9 1411.0,319.1 1414.0,319.3 1417.0,319.4 1420.0,319.5 1423.0,319.6 1426.0,319.6 1429.0,319.6 1432.0,319.6 1435.0,319.5 1438.0,319.5 1441.0,319.5 1444.0,319.4 1447.0,319.4 1450.0,319.3 1453.0,319.2 1456.0,319.2 1459.0,319.1 1462.0,319.0 1465.0,318.9 1468.0,318.8 1471.0,318.6 1474.0,318.4 1477.0,318.2 1480.0,318.0 1483.0,317.8 1486.0,317.6 1489.0,317.4 1492.0,317.2 1495.0,317.0 1498.0,316.8 1501.0,316.5 1504.0,316.3 1507.0,316.0 1510.0,315.8 1513.0,315.5 1516.0,315.2 1519.0,314.9 1522.0,314.5 1525.0,314.2 1528.0,313.7 1531.0,313.3 1534.0,312.8 1537.0,312.3 1540.0,311.8 1543.0,311.3 1546.0,310.8 1549.0,310.2 1552.0,309.7 1555.0,309.1 1558.0,308.6 1561.0,308.1 1564.0,307.5 1567.0,307.0 1570.0,306.4 1573.0,305.9 1576.0,305.3 1579.0,304.7 1582.0,304.1 1585.0,303.5 1588.0,302.8 1591.0,302.2 1594.0,301.5 1597.0,300.8 1600.0,300.1 1603.0,299.4 1606.0,298.7 1609.0,297.9 1612.0,297.2 1615.0,296.4 1618.0,295.6 1621.0,294.7 1624.0,293.9 1627.0,293.0 1630.0,292.1 1633.0,291.2 1636.0,290.2 1639.0,289.2 1642.0,288.2 1645.0,287.1 1648.0,286.0 1651.0,284.8 1654.0,283.7 1657.0,282.5 1660.0,281.2 1663.0,279.9 1666.0,278.6 1669.0,277.3 1672.0,275.9 1675.0,274.5 1678.0,273.0 1681.0,271.5 1684.0,269.9 1687.0,268.2 1690.0,266.5 1693.0,264.8 1696.0,263.0 1699.0,261.2 1702.0,259.4 1705.0,257.6 1708.0,255.7 1711.0,253.9 1714.0,252.0 1717.0,250.1 1720.0,248.2 1723.0,246.2 1726.0,244.2 1729.0,242.1 1730.2,241.3 1730.2,323.9 1729.0,323.9 1726.0,323.8 1723.0,323.7 1720.0,323.6 1717.0,323.5 1714.0,323.5 1711.0,323.5 1708.0,323.5 1705.0,323.5 1702.0,323.6 1699.0,323.6 1696.0,323.7 1693.0,323.7 1690.0,323.8 1687.0,323.9 1684.0,323.9 1681.0,324.0 1678.0,324.1 1675.0,324.2 1672.0,324.3 1669.0,324.4 1666.0,324.5 1663.0,324.7 1660.0,324.8 1657.0,325.0 1654.0,325.2 1651.0,325.4 1648.0,325.6 1645.0,325.8 1642.0,326.1 1639.0,326.3 1636.0,326.5 1633.0,326.8 1630.0,327.0 1627.0,327.3 1624.0,327.5 1621.0,327.8 1618.0,328.1 1615.0,328.4 1612.0,328.7 1609.0,329.0 1606.0,329.3 1603.0,329.6 1600.0,330.0 1597.0,330.3 1594.0,330.7 1591.0,331.0 1588.0,331.4 1585.0,331.8 1582.0,332.3 1579.0,332.7 1576.0,333.1 1573.0,333.6 1570.0,334.0 1567.0,334.5 1564.0,334.9 1561.0,335.4 1558.0,335.8 1555.0,336.3 1552.0,336.8 1549.0,337.3 1546.0,337.8 1543.0,338.3 1540.0,338.8 1537.0,339.3 1534.0,339.8 1531.0,340.3 1528.0,340.8 1525.0,341.3 1522.0,341.7 1519.0,342.1 1516.0,342.4 1513.0,342.8 1510.0,343.2 1507.0,343.5 1504.0,343.9 1501.0,344.2 1498.0,344.5 1495.0,344.8 1492.0,345.1 1489.0,345.3 1486.0,345.6 1483.0,345.8 1480.0,346.0 1477.0,346.2 1474.0,346.4 1471.0,346.5 1468.0,346.7 1465.0,346.8 1462.0,346.8 1459.0,346.8 1456.0,346.8 1453.0,346.7 1450.0,346.7 1447.0,346.6 1444.0,346.6 1441.0,346.5 1438.0,346.4 1435.0,346.3 1432.0,346.3 1429.0,346.2 1426.0,346.1 1423.0,346.0 1420.0,345.8 1417.0,345.7 1414.0,345.5 1411.0,345.3 1408.0,345.1 1405.0,344.9 1402.0,344.6 1399.0,344.3 1396.0,344.1 1393.0,343.8 1390.0,343.4 1387.0,343.1 1384.0,342.8 1381.0,342.4 1378.0,341.9 1375.0,341.4 1372.0,340.9 1369.0,340.3 1366.0,339.7 1363.0,339.0 1360.0,338.4 1357.0,337.7 1354.0,337.0 1351.0,336.3 1348.0,335.6 1345.0,334.9 1342.0,334.1 1339.0,333.4 1336.0,332.6 1333.0,331.8 1330.0,331.0 1327.0,330.1 1324.0,329.3 1321.0,328.4 1318.0,327.5 1315.0,326.6 1312.0,325.7 1309.0,324.7 1306.0,323.8 1303.0,322.8 1300.0,321.8 1297.0,320.8 1294.0,319.7 1291.0,318.7 1288.0,317.6 1285.0,316.5 1282.0,315.4 1279.0,314.4 1276.0,313.4 1273.0,312.3 1270.0,311.4 1267.0,310.4 1264.0,309.6 1261.0,308.7 1258.0,307.9 1255.0,307.0 1252.0,306.2 1249.0,305.4 1246.0,304.5 1243.0,303.6 1240.0,302.7 1237.0,301.7 1234.0,300.7 1231.0,299.7 1228.0,298.7 1225.0,297.6 1222.0,296.6 1219.0,295.5 1216.0,294.4 1213.0,293.2 1210.0,292.1 1207.0,291.0 1204.0,289.9 1201.0,288.7 1198.0,287.6 1195.0,286.5 1192.0,285.4 1189.0,284.3 1186.0,283.2 1183.0,282.1 1180.0,281.0 1177.0,279.9 1174.0,278.8 1171.0,277.7 1168.0,276.6 1165.0,275.5 1162.0,274.4 1159.0,273.3 1156.0,272.2 1153.0,271.1 1150.0,270.0 1147.0,269.0 1144.0,268.0 1141.0,267.0 1138.0,266.0 1135.0,265.0 1132.0,264.0 1129.0,263.1 1126.0,262.1 1123.0,261.2 1120.0,260.2 1117.0,259.3 1114.0,258.3 1111.0,257.3 1108.0,256.3 1105.0,255.3 1102.0,254.3 1099.0,253.3 1096.0,252.3 1093.0,251.2 1090.0,250.2 1087.0,249.2 1084.0,248.1 1081.0,247.1 1078.0,246.0 1075.0,245.0 1072.0,243.9 1069.0,242.9 1066.0,241.8 1063.0,240.8 1060.0,239.7 1057.0,238.6 1054.0,237.5 1051.0,236.5 1048.0,235.5 1045.0,234.5 1042.0,233.6 1039.0,232.6 1036.0,231.7 1033.0,231.0 1030.0,230.4 1027.0,230.0 1024.0,229.5 1021.0,229.2 1018.0,228.9 1015.0,228.7 1012.0,228.6" fill="#999999" fill-opacity="0.4"/>
<polyline points="1012.0,201.6 1015.0,202.8 1018.0,204.0 1021.0,205.2 1024.0,206.4 1027.0,207.7 1030.0,208.9 1033.0,210.2 1036.0,211.5 1039.0,212.7 1042.0,214.0 1045.0,215.3 1048.0,216.6 1051.0,217.8 1054.0,219.0 1057.0,220.2 1060.0,221.5 1063.0,222.8 1066.0,224.1 1069.0,225.4 1072.0,226.7 1075.0,228.1 1078.0,229.4 1081.0,230.6 1084.0,231.9 1087.0,233.1 1090.0,234.4 1093.0,235.6 1096.0,236.8 1099.0,238.0 1102.0,239.2 1105.0,240.4 1108.0,241.6 1111.0,242.8 1114.0,244.0 1117.0,245.2 1120.0,246.4 1123.0,247.6 1126.0,248.8 1129.0,250.0 1132.0,251.2 1135.0,252.4 1138.0,253.6 1141.0,254.7 1144.0,255.8 1147.0,256.9 1150.0,258.0 1153.0,259.1 1156.0,260.2 1159.0,261.2 1162.0,262.3 1165.0,263.3 1168.0,264.4 1171.0,265.4 1174.0,266.4 1177.0,267.4 1180.0,268.5 1183.0,269.5 1186.0,270.5 1189.0,271.6 1192.0,272.6 1195.0,273.6 1198.0,274.7 1201.0,275.7 1204.0,276.7 1207.0,277.7 1210.0,278.8 1213.0,279.8 1216.0,280.8 1219.0,281.8 1222.0,282.9 1225.0,283.9 1228.0,284.9 1231.0,285.9 1234.0,286.9 1237.0,287.9 1240.0,288.9 1243.0,289.9 1246.0,290.9 1249.0,291.9 1252.0,292.8 1255.0,293.8 1258.0,294.8 1261.0,295.8 1264.0,296.7 1267.0,297.7 1270.0,298.7 1273.0,299.7 1276.0,300.7 1279.0,301.7 1282.0,302.7 1285.0,303.7 1288.0,304.7 1291.0,305.7 1294.0,306.7 1297.0,307.7 1300.0,308.7 1303.0,309.6 1306.0,310.5 1309.0,311.4 1312.0,312.3 1315.0,313.2 1318.0,314.1 1321.0,314.9 1324.0,315.8 1327.0,316.7 1330.0,317.5 1333.0,318.3 1336.0,319.1 1339.0,319.8 1342.0,320.6 1345.0,321.3 1348.0,322.0 1351.0,322.6 1354.0,323.3 1357.0,324.0 1360.0,324.6 1363.0,325.3 1366.0,325.9 1369.0,326.5 1372.0,327.0 1375.0,327.5 1378.0,328.0 1381.0,328.5 1384.0,328.9 1387.0,329.2 1390.0,329.6 1393.0,329.9 1396.0,330.2 1399.0,330.6 1402.0,330.9 1405.0,331.1 1408.0,331.4 1411.0,331.6 1414.0,331.8 1417.0,332.0 1420.0,332.1 1423.0,332.2 1426.0,332.2 1429.0,332.2 1432.0,332.3 1435.0,332.3 1438.0,332.3 1441.0,332.3 1444.0,332.4 1447.0,332.4 1450.0,332.4 1453.0,332.4 1456.0,332.4 1459.0,332.4 1462.0,332.4 1465.0,332.4 1468.0,332.4 1471.0,332.3 1474.0,332.3 1477.0,332.3 1480.0,332.2 1483.0,332.1 1486.0,331.9 1489.0,331.7 1492.0,331.4 1495.0,331.1 1498.0,330.8 1501.0,330.5 1504.0,330.2 1507.0,329.9 1510.0,329.6 1513.0,329.2 1516.0,328.8 1519.0,328.5 1522.0,328.1 1525.0,327.7 1528.0,327.3 1531.0,326.8 1534.0,326.4 1537.0,326.0 1540.0,325.5 1543.0,325.0 1546.0,324.6 1549.0,324.1 1552.0,323.6 1555.0,323.1 1558.0,322.6 1561.0,322.1 1564.0,321.6 1567.0,321.1 1570.0,320.6 1573.0,320.0 1576.0,319.5 1579.0,319.0 1582.0,318.4 1585.0,317.9 1588.0,317.3 1591.0,316.7 1594.0,316.1 1597.0,315.6 1600.0,315.0 1603.0,314.4 1606.0,313.8 1609.0,313.2 1612.0,312.5 1615.0,311.9 1618.0,311.3 1621.0,310.6 1624.0,310.0 1627.0,309.3 1630.0,308.6 1633.0,308.0 1636.0,307.3 1639.0,306.6 1642.0,305.9 1645.0,305.2 1648.0,304.5 1651.0,303.8 1654.0,303.0 1657.0,302.3 1660.0,301.5 1663.0,300.8 1666.0,300.0 1669.0,299.3 1672.0,298.5 1675.0,297.7 1678.0,296.9 1681.0,296.2 1684.0,295.4 1687.0,294.6 1690.0,293.8 1693.0,293.0 1696.0,292.2 1699.0,291.4 1702.0,290.5 1705.0,289.7 1708.0,288.9 1711.0,288.0 1714.0,287.2 1717.0,286.4 1720.0,285.5 1723.0,284.6 1726.0,283.7 1729.0,282.9 1730.2,282.5" fill="none" stroke="#000" stroke-width="2.1"/>
<line x1="976.6" y1="383.5" x2="1766.4" y2="383.5" stroke="#df0000" stroke-width="2.4" stroke-dasharray="7.6 7.82"/>
</g>
<g class="annB"><text x="1167.5" y="147.6" text-anchor="middle">**</text><text x="1245.2" y="147.6" text-anchor="middle">****</text><text x="1322.9" y="147.6" text-anchor="middle">****</text><text x="1400.6" y="147.6" text-anchor="middle">****</text><text x="1478.2" y="147.6" text-anchor="middle">****</text><text x="1555.9" y="147.6" text-anchor="middle">****</text><text x="1633.6" y="147.6" text-anchor="middle">****</text><text x="1711.2" y="147.6" text-anchor="middle">*</text></g>
<rect x="976.6" y="23.7" width="789.8" height="483.5" fill="none" stroke="#050505" stroke-width="1.2"/>
<g stroke="#050505" stroke-width="1.8"><line x1="971.1" y1="468.8" x2="976.6" y2="468.8"/><line x1="971.1" y1="383.5" x2="976.6" y2="383.5"/><line x1="971.1" y1="298.2" x2="976.6" y2="298.2"/><line x1="971.1" y1="212.8" x2="976.6" y2="212.8"/><line x1="971.1" y1="127.5" x2="976.6" y2="127.5"/><line x1="971.1" y1="42.2" x2="976.6" y2="42.2"/><line x1="1012.2" y1="507.2" x2="1012.2" y2="512.9"/><line x1="1089.9" y1="507.2" x2="1089.9" y2="512.9"/><line x1="1167.5" y1="507.2" x2="1167.5" y2="512.9"/><line x1="1245.2" y1="507.2" x2="1245.2" y2="512.9"/><line x1="1322.9" y1="507.2" x2="1322.9" y2="512.9"/><line x1="1400.6" y1="507.2" x2="1400.6" y2="512.9"/><line x1="1478.2" y1="507.2" x2="1478.2" y2="512.9"/><line x1="1555.9" y1="507.2" x2="1555.9" y2="512.9"/><line x1="1633.6" y1="507.2" x2="1633.6" y2="512.9"/><line x1="1711.2" y1="507.2" x2="1711.2" y2="512.9"/></g>
<g class="tick"><text transform="translate(966.1,474.7) scale(0.93,1)" text-anchor="end">0</text><text transform="translate(966.1,389.4) scale(0.93,1)" text-anchor="end">10</text><text transform="translate(966.1,304.1) scale(0.93,1)" text-anchor="end">20</text><text transform="translate(966.1,218.7) scale(0.93,1)" text-anchor="end">30</text><text transform="translate(966.1,133.4) scale(0.93,1)" text-anchor="end">40</text><text transform="translate(966.1,48.1) scale(0.93,1)" text-anchor="end">50</text><text transform="translate(1012.2,527.8) scale(0.93,1)" text-anchor="middle">0</text><text transform="translate(1089.9,527.8) scale(0.93,1)" text-anchor="middle">1</text><text transform="translate(1167.5,527.8) scale(0.93,1)" text-anchor="middle">2</text><text transform="translate(1245.2,527.8) scale(0.93,1)" text-anchor="middle">3</text><text transform="translate(1322.9,527.8) scale(0.93,1)" text-anchor="middle">4</text><text transform="translate(1400.6,527.8) scale(0.93,1)" text-anchor="middle">5</text><text transform="translate(1478.2,527.8) scale(0.93,1)" text-anchor="middle">6</text><text transform="translate(1555.9,527.8) scale(0.93,1)" text-anchor="middle">7</text><text transform="translate(1633.6,527.8) scale(0.93,1)" text-anchor="middle">8</text><text transform="translate(1711.2,527.8) scale(0.93,1)" text-anchor="middle">9</text></g>
<text class="axt" x="1371" y="559.6" text-anchor="middle">Dive Time (Hour)</text>
<text class="axt" transform="translate(935.4,265) rotate(-90)" text-anchor="middle">Temperature (°C)</text>
</svg>
</body>
</html>
